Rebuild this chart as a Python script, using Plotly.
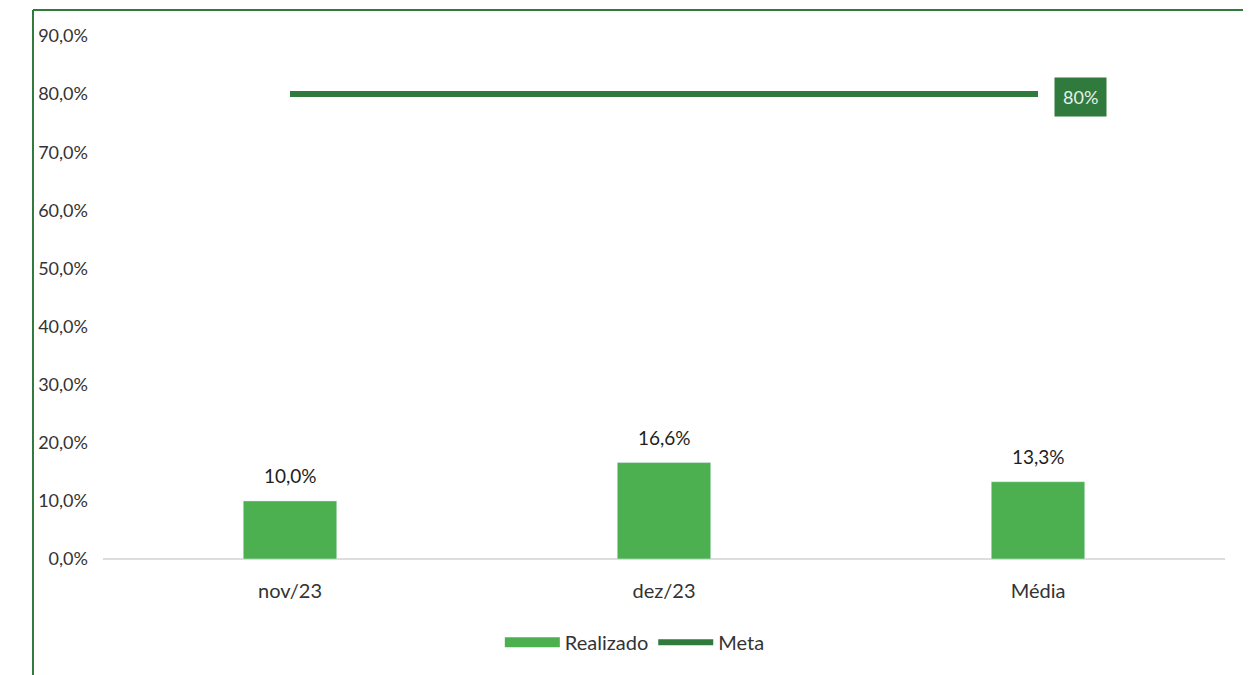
import plotly.graph_objects as go

# dados
categorias = ["nov/23", "dez/23", "Média"]
realizado = [0.100, 0.166, 0.133]
meta = [0.80, 0.80, 0.80]

verde_barra = "#4cb050"
verde_meta = "#2f7a3c"

fig = go.Figure()

fig.add_trace(go.Bar(
    x=categorias, y=realizado, name="Realizado",
    marker_color=verde_barra, showlegend=False,
))

# entrada de legenda larga para "Realizado"
fig.add_trace(go.Scatter(
    x=[None], y=[None], name="Realizado", mode="lines",
    line=dict(color=verde_barra, width=14),
))

fig.add_trace(go.Scatter(
    x=categorias, y=meta, name="Meta", mode="lines",
    line=dict(color=verde_meta, width=6),
))

# rótulos das barras
for cat, val in zip(categorias, realizado):
    fig.add_annotation(
        x=cat, y=val, text=f"{val*100:.1f}%".replace(".", ","),
        showarrow=False, yanchor="bottom", yshift=12,
        font=dict(size=19, color="#1e1e1e"),
    )

# rótulo da meta
fig.add_annotation(
    x=categorias[-1], y=meta[-1], text=f"{meta[-1]*100:.0f}%",
    showarrow=False, xanchor="left", xshift=16, yshift=-3,
    font=dict(size=18, color="#e8f0e8"), bgcolor=verde_meta,
    borderpad=8,
)

# moldura verde (esquerda e topo)
fig.add_shape(type="line", xref="paper", yref="paper",
              x0=-0.0624, x1=-0.0624, y0=1.0497, y1=-0.25,
              line=dict(color="#2f7a3c", width=2))
fig.add_shape(type="line", xref="paper", yref="paper",
              x0=-0.0624, x1=1.04, y0=1.0497, y1=1.0497,
              line=dict(color="#2f7a3c", width=2))

fig.update_layout(
    width=1243, height=667,
    margin=dict(l=95, r=26, t=28, b=116),
    paper_bgcolor="white", plot_bgcolor="white",
    font=dict(family="Lato", size=17, color="#333333"),
    separators=",.",
    bargap=0.75,
    showlegend=True,
    legend=dict(orientation="h", x=0.474, xanchor="center", y=-0.159, yanchor="middle",
                font=dict(size=20, color="#333333"), itemwidth=55),
    xaxis=dict(showgrid=False, showline=False, ticks="", tickfont=dict(size=20),
               ticklabelstandoff=18),
    yaxis=dict(range=[0, 0.9], dtick=0.1, tickformat=".1%", showgrid=False,
               zeroline=True, zerolinecolor="#dddddd", zerolinewidth=1.5,
               tickfont=dict(size=18), ticklabelstandoff=14),
)

fig.write_html("out.html")
